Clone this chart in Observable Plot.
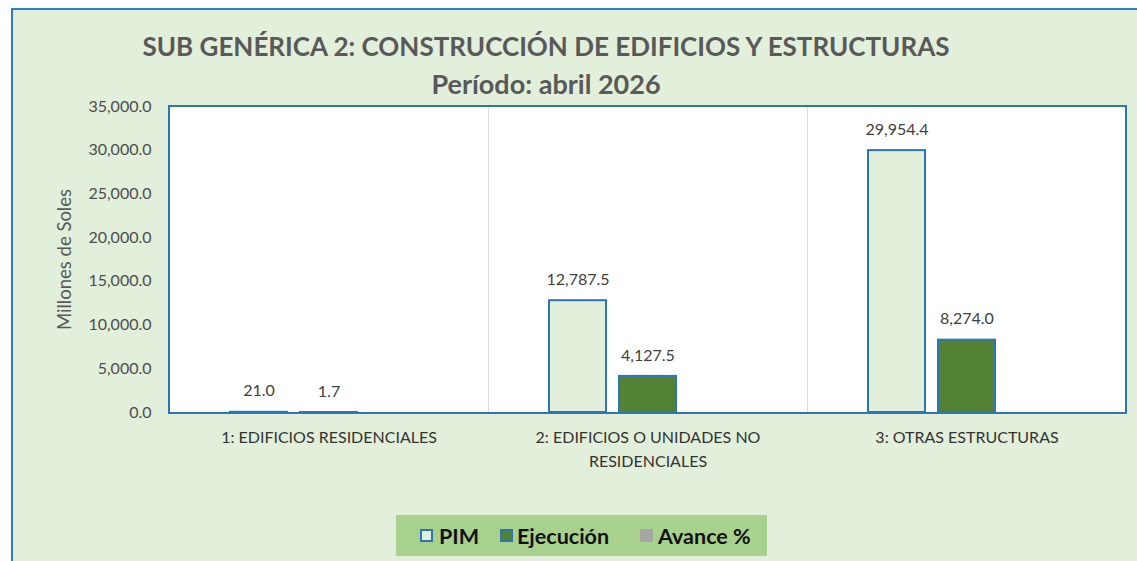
<!DOCTYPE html>
<html><head><meta charset="utf-8">
<script src="https://cdn.jsdelivr.net/npm/d3@7"></script>
<script src="https://cdn.jsdelivr.net/npm/@observablehq/plot@0.6"></script>
<style>
body{margin:0;background:#fff;font-family:Lato,"Open Sans",sans-serif;}
#page{position:relative;width:1137px;height:561px;overflow:hidden;}
#panel{position:absolute;left:11px;top:8px;width:1150px;height:580px;background:#e2efda;border-left:2px solid #2e7dd0;border-top:2px solid #2e7dd0;box-sizing:border-box;}
.ttl{position:absolute;left:0;width:1092px;text-align:center;font-weight:bold;color:#595959;white-space:nowrap;}
#title{top:30px;font-size:26px;line-height:32px;}
#sub{top:68px;font-size:27px;line-height:32px;}
#chart{position:absolute;left:0;top:95px;}
#frame{position:absolute;left:168px;top:105px;width:959px;height:309px;border:2px solid #2e75b6;box-sizing:border-box;pointer-events:none;}
#legend{position:absolute;left:396px;top:515px;width:371px;height:41px;background:#a9d18e;}
.sw{position:absolute;top:529px;width:13px;height:13px;box-sizing:border-box;}
.lt{position:absolute;top:521px;font-weight:bold;font-size:21.5px;line-height:30px;color:#111;}
</style>
</head><body>
<div id="page">
  <div id="panel"></div>
  <div id="title" class="ttl">SUB GENÉRICA 2: CONSTRUCCIÓN DE EDIFICIOS Y ESTRUCTURAS</div>
  <div id="sub" class="ttl">Período: abril 2026</div>
  <div id="chart"></div>
  <div id="frame"></div>
  <div id="legend"></div>
  <div class="sw" id="sw0" style="left:420px;"></div><div class="lt" style="left:439px;" id="lt0"></div>
  <div class="sw" id="sw1" style="left:500px;"></div><div class="lt" style="left:517px;" id="lt1"></div>
  <div class="sw" id="sw2" style="left:640px;"></div><div class="lt" style="left:658px;" id="lt2"></div>
</div>
<script>
const categories = ["1: EDIFICIOS RESIDENCIALES", "2: EDIFICIOS O UNIDADES NO RESIDENCIALES", "3: OTRAS ESTRUCTURAS"];
const categoryLabels = ["1: EDIFICIOS RESIDENCIALES", "2: EDIFICIOS O UNIDADES NO\nRESIDENCIALES", "3: OTRAS ESTRUCTURAS"];
const series = ["PIM", "Ejecución", "Avance %"];
const pim = [21.0, 12787.5, 29954.4];
const ejecucion = [1.7, 4127.5, 8274.0];
const yTicks = [0, 5000, 10000, 15000, 20000, 25000, 30000, 35000];
const seriesFill = ["#e2efda", "#548235", "#a5a5a5"];
const seriesStroke = ["#2e75b6", "#2e75b6", "none"];

const data = categories.flatMap((c, i) => [
  {category: c, series: series[0], value: pim[i]},
  {category: c, series: series[1], value: ejecucion[i]}
]);
const fmt = d3.format(",.1f");

const chart = Plot.plot({
  width: 1137, height: 390,
  marginLeft: 169, marginRight: 11, marginTop: 11, marginBottom: 73,
  style: {background: "transparent", fontFamily: "Lato, 'Open Sans', sans-serif", color: "#595959"},
  fx: {domain: categories, padding: 0, label: null},
  x: {domain: series, paddingInner: 0.186, paddingOuter: 0.871, axis: null},
  y: {domain: [0, 35000]},
  color: {domain: series, range: seriesFill},
  marks: [
    Plot.frame({fill: "white", stroke: "#d9d9d9"}),
    Plot.axisY({ticks: yTicks, tickFormat: fmt, tickSize: 0, tickPadding: 18, label: null, fontSize: 16, fill: "#4d4d4d"}),
    Plot.axisY({ticks: [], label: "Millones de Soles", labelAnchor: "center", labelOffset: 112, labelArrow: "none", fontSize: 18.5, fill: "#595959"}),
    Plot.axisFx({anchor: "bottom", tickSize: 0, tickPadding: 13, label: null, fontSize: 16, lineHeight: 1.5, fill: "#333",
      tickFormat: d => categoryLabels[categories.indexOf(d)]}),
    Plot.barY(data, {fx: "category", x: "series", y: "value", fill: "series", stroke: "#2e75b6", strokeWidth: 2}),
    Plot.text(data, {fx: "category", x: "series", y: "value", text: d => fmt(d.value), dy: -21, fill: "#404040", fontSize: 16})
  ]
});
document.getElementById("chart").appendChild(chart);

series.forEach((s, i) => {
  const sw = document.getElementById("sw" + i);
  sw.style.background = seriesFill[i];
  if (seriesStroke[i] !== "none") sw.style.border = "2px solid " + seriesStroke[i];
  document.getElementById("lt" + i).textContent = s;
});
</script>
</body></html>
